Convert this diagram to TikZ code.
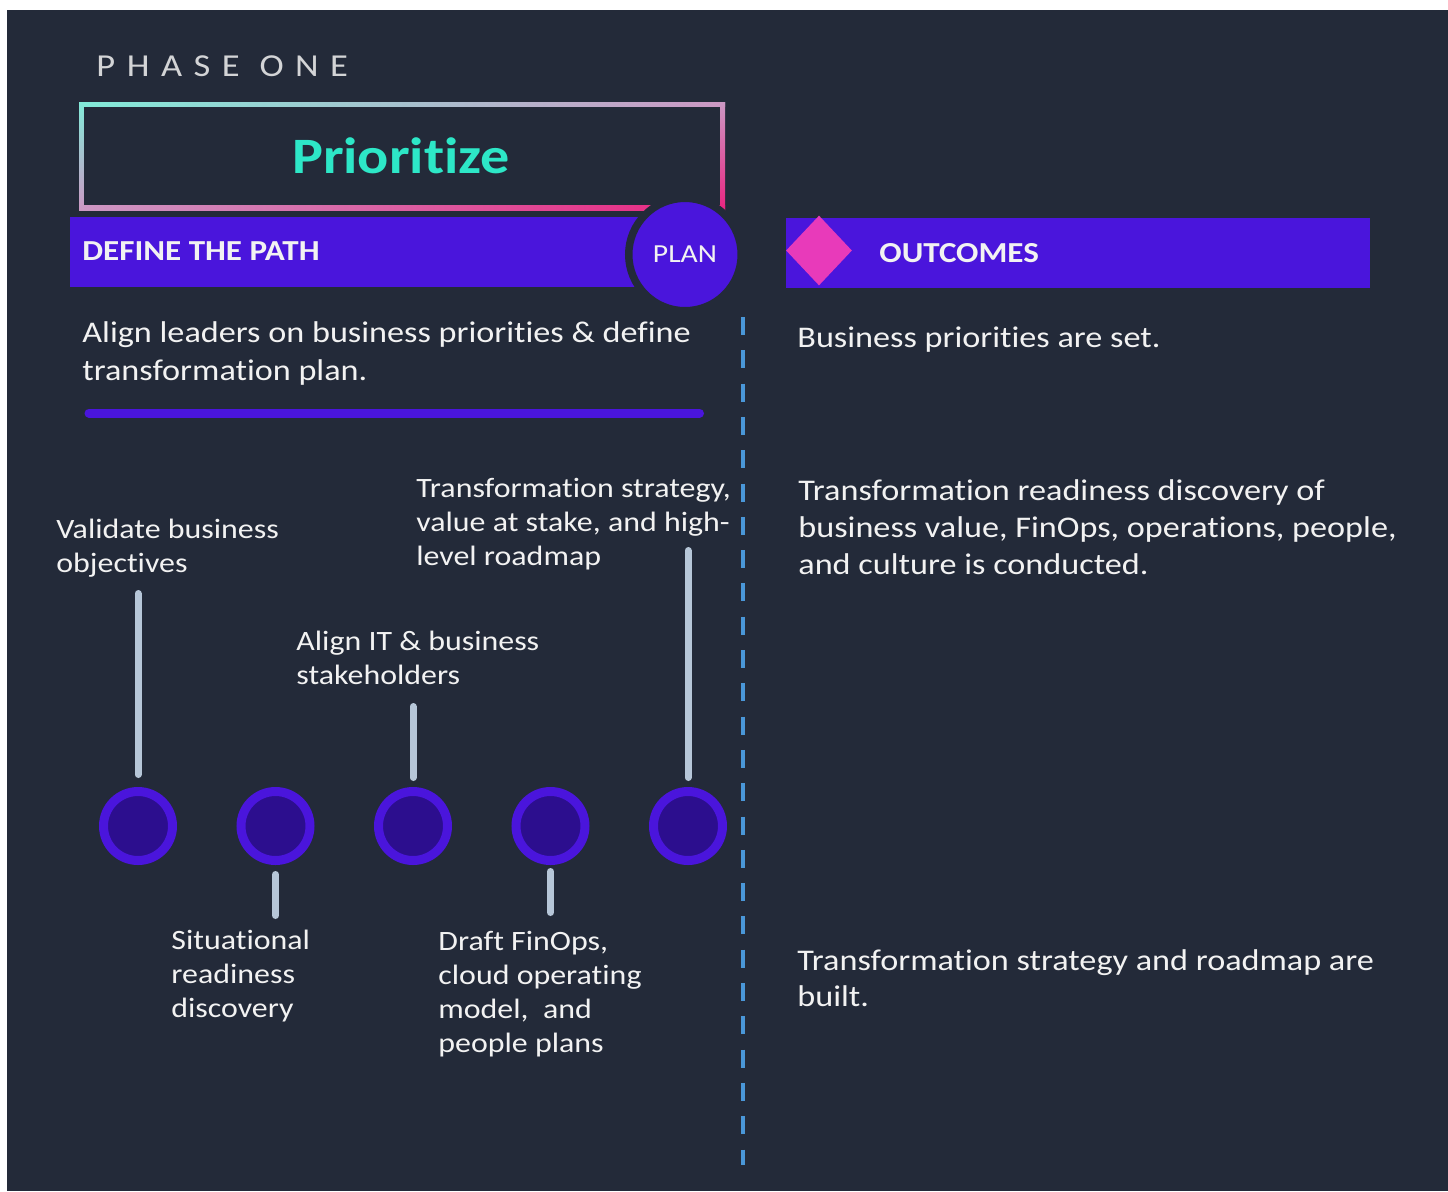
\documentclass[tikz,border=0pt]{standalone}
\usepackage{fontspec}
\setmainfont{Carlito}[FakeStretch=1.14, Ligatures=NoCommon]
\usetikzlibrary{shapes.geometric}

\definecolor{bgDark}{HTML}{232A39}
\definecolor{planPurple}{HTML}{4A15DC}
\definecolor{dotPurple}{HTML}{2C0E8E}
\definecolor{stemGray}{HTML}{B6C6D8}
\definecolor{dashBlue}{HTML}{4A97D8}
\definecolor{gemPink}{HTML}{E83ABA}
\definecolor{prioTeal}{HTML}{2DE7C7}
\definecolor{frameCyan}{HTML}{82EBD9}
\definecolor{frameMauve}{HTML}{CC98C4}
\definecolor{framePink}{HTML}{EA2480}
\definecolor{textWhite}{HTML}{F2F2F2}

\tikzset{
    bodytext/.style={text=textWhite, font=\fontsize{15}{19}\selectfont, align=left, anchor=base west, inner sep=0pt},
    steptext/.style={bodytext, font=\fontsize{14}{17}\selectfont},
    bartext/.style={bodytext, font=\fontsize{14.5}{17}\selectfont\bfseries},
    milestone/.style={circle, fill=dotPurple, draw=planPurple, line width=4.5pt, minimum size=34.5pt, inner sep=0pt},
    stem/.style={stemGray, line width=3.5pt, line cap=round},
}

\begin{document}
\begin{tikzpicture}[x=0.5pt, y=-0.5pt]
            \useasboundingbox (0, 0) rectangle (1448, 1191);
            \fill[white] (0, 0) rectangle (1448, 1191);
            \fill[bgDark] (7, 10) rectangle (1448, 1191);

            \node[bodytext, text=textWhite!85!bgDark, font=\fontsize{16}{18}\selectfont\addfontfeatures{LetterSpace=36}] (phase) at (96, 76) {PHASE ONE};
            \shade[left color=frameCyan, right color=frameMauve] (79, 102) rectangle (725, 106.5);
            \shade[left color=frameMauve, right color=framePink] (79, 205.5) rectangle (725, 210);
            \shade[top color=frameCyan, bottom color=frameMauve] (79, 102) rectangle (83.5, 210);
            \shade[top color=frameMauve, bottom color=framePink] (720.5, 102) rectangle (725, 210);
            \node[anchor=base, inner sep=0pt, text=prioTeal, font=\fontsize{25.5}{28}\selectfont\bfseries] (prio) at (401, 173) {Prioritize};

            \fill[planPurple] (70, 217) rectangle (686, 287);
            \node[bartext] (path) at (82, 260) {DEFINE THE PATH};
            \node[circle, fill=planPurple, draw=bgDark, line width=3.75pt, minimum size=56.25pt, inner sep=0pt, text=textWhite, font=\fontsize{13}{15}\selectfont] (plan) at (685, 254.5) {PLAN};

            \fill[planPurple] (786, 218) rectangle (1370, 288);
            \node[diamond, fill=gemPink, minimum width=33pt, minimum height=35pt, inner sep=0pt] (gem) at (819, 250.5) {};
            \node[bartext] (outcomes) at (879, 262) {OUTCOMES};

            \draw[dashBlue, line width=2pt, dash pattern=on 9pt off 7.65pt] (743, 317) -- (743, 1165);

            \node[bodytext] (goal) at (82, 380) {Align leaders on business priorities \& define\\transformation plan.};
            \draw[planPurple, line width=4.5pt, line cap=round] (89, 413) -- (699.5, 413);

            \foreach \cIdx in {1, ..., 5} {
                \pgfmathsetmacro\cX{138+137.5*(\cIdx-1)}
                \node[milestone] (m\cIdx) at (\cX, 826) {};
            }

            \node[steptext] (v1) at (56, 572) {Validate business\\objectives};
            \node[steptext] (v2) at (171, 1017) {Situational\\readiness\\discovery};
            \node[steptext] (v3) at (296, 684) {Align IT \& business\\stakeholders};
            \node[steptext] (v4) at (438, 1052) {Draft FinOps,\\cloud operating\\model,\ \ and\\people plans};
            \node[steptext] (v5) at (416, 565) {Transformation strategy,\\value at stake, and high-\\level roadmap};

            \draw[stem] (m1.north) ++(0, -12.5) -- ++(0, -181);
            \draw[stem] (m2.south) ++(0, 9.5) -- ++(0, 41);
            \draw[stem] (m3.north) ++(0, -9.5) -- ++(0, -71);
            \draw[stem] (m4.south) ++(0, 6.5) -- ++(0, 41);
            \draw[stem] (m5.north) ++(0, -9.5) -- ++(0, -227);

            \node[bodytext] (o1) at (797, 347) {Business priorities are set.};
            \node[bodytext, font=\fontsize{15}{18.5}\selectfont] (o2) at (798, 574) {Transformation readiness discovery of\\business value, FinOps, operations, people,\\and culture is conducted.};
            \node[bodytext, font=\fontsize{15}{18}\selectfont] (o3) at (797, 1006) {Transformation strategy and roadmap are\\built.};
        \end{tikzpicture}
\end{document}
